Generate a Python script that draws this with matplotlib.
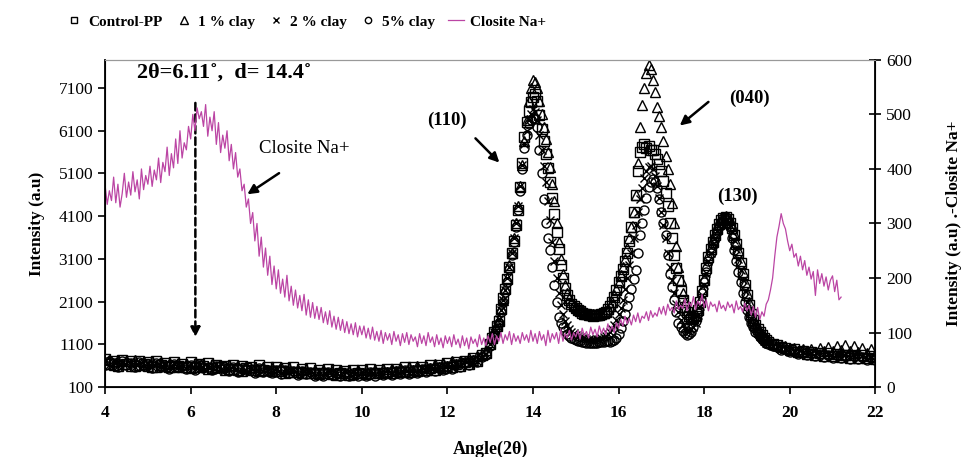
import numpy as np
import matplotlib.pyplot as plt

plt.rcParams['font.family'] = ['Liberation Serif', 'DejaVu Serif']

# 2-theta sampling: 0.1 deg on the flat parts, 0.05 deg across the PP peaks
angle = np.round(np.concatenate([np.arange(4.0, 12.95, 0.1),
                                 np.arange(13.0, 19.475, 0.05),
                                 np.arange(19.5, 22.05, 0.1)]), 2)

control_pp = [
    760, 640, 720, 600, 740, 650, 700, 590, 720, 630,
    690, 580, 700, 610, 660, 560, 690, 600, 650, 570,
    680, 560, 640, 590, 660, 540, 620, 570, 600, 520,
    620, 510, 600, 540, 580, 490, 610, 500, 560, 470,
    570, 480, 550, 450, 560, 460, 520, 430, 540, 440,
    510, 420, 530, 400, 500, 440, 480, 390, 510, 420,
    490, 400, 520, 420, 500, 440, 530, 430, 520, 460,
    560, 450, 580, 480, 560, 500, 610, 510, 620, 540,
    660, 560, 690, 600, 720, 650, 770, 720, 840, 900,
    1100, 1250, 1380, 1520, 1650, 1930, 2180, 2400, 2620, 2900,
    3250, 3520, 3900, 4250, 4780, 5350, 5950, 6300, 6560, 6780,
    6900, 6950, 6800, 6480, 6150, 5850, 5550, 5230, 4900, 4520,
    4150, 3720, 3330, 2950, 2650, 2420, 2250, 2130, 2050, 1990,
    1950, 1900, 1870, 1840, 1820, 1800, 1790, 1780, 1770, 1780,
    1780, 1790, 1800, 1830, 1860, 1920, 1990, 2090, 2220, 2380,
    2550, 2700, 2870, 3050, 3250, 3520, 3850, 4200, 4600, 5150,
    5600, 5720, 5780, 5700, 5740, 5660, 5640, 5560, 5450, 5330,
    5150, 4920, 4650, 4330, 3950, 3580, 3200, 2880, 2600, 2350,
    2150, 1980, 1850, 1760, 1700, 1710, 1760, 1900, 2100, 2350,
    2600, 2880, 3150, 3330, 3500, 3660, 3800, 3920, 4000, 4060,
    4080, 4040, 3950, 3820, 3650, 3450, 3250, 3000, 2750, 2500,
    2250, 2020, 1800, 1660, 1550, 1460, 1380, 1310, 1250, 1200,
    1150, 1100, 1080, 1030, 1020, 960, 980, 920, 950, 880,
    930, 850, 900, 830, 890, 820, 880, 800, 860, 790,
    850, 780, 840, 770, 820, 760]

clay_1 = [
    650, 740, 610, 720, 640, 700, 590, 730, 620, 680,
    590, 700, 570, 680, 600, 650, 560, 670, 580, 640,
    550, 660, 580, 620, 530, 650, 560, 600, 510, 620,
    520, 600, 480, 590, 510, 560, 470, 580, 490, 540,
    470, 560, 440, 540, 460, 510, 420, 530, 440, 500,
    410, 500, 430, 480, 390, 490, 420, 470, 400, 500,
    420, 510, 430, 490, 440, 520, 450, 530, 470, 550,
    480, 570, 500, 590, 510, 600, 540, 640, 560, 660,
    600, 700, 640, 720, 680, 780, 740, 820, 880, 960,
    1150, 1300, 1420, 1580, 1700, 1950, 2150, 2420, 2650, 2950,
    3250, 3600, 3950, 4350, 4800, 5300, 5850, 6350, 6800, 7100,
    7300, 7250, 7100, 6800, 6500, 6200, 5900, 5600, 5250, 4850,
    4450, 3950, 3500, 3100, 2750, 2500, 2300, 2180, 2080, 2020,
    1980, 1930, 1900, 1870, 1850, 1830, 1820, 1800, 1800, 1790,
    1790, 1800, 1810, 1840, 1870, 1920, 2000, 2100, 2250, 2400,
    2550, 2720, 2900, 3100, 3350, 3600, 3850, 4200, 4600, 5350,
    6200, 6700, 7100, 7450, 7650, 7550, 7300, 7000, 6650, 6450,
    6200, 5850, 5500, 5200, 4850, 4400, 3950, 3400, 2900, 2600,
    2300, 2080, 1900, 1800, 1720, 1730, 1780, 1950, 2150, 2400,
    2650, 2950, 3200, 3380, 3550, 3700, 3850, 3960, 4050, 4090,
    4100, 4080, 4000, 3870, 3700, 3500, 3300, 3050, 2800, 2550,
    2300, 2080, 1850, 1720, 1600, 1500, 1420, 1350, 1300, 1250,
    1200, 1140, 1120, 1050, 1060, 990, 1020, 950, 1000, 930,
    990, 920, 1010, 940, 1040, 950, 1060, 960, 1080, 940,
    1050, 930, 1020, 900, 980, 880]

clay_2 = [
    700, 620, 740, 600, 680, 650, 720, 580, 690, 620,
    660, 560, 690, 590, 640, 550, 670, 580, 620, 540,
    640, 530, 620, 560, 600, 500, 630, 530, 580, 490,
    590, 480, 570, 510, 550, 460, 560, 480, 530, 440,
    540, 430, 520, 450, 500, 410, 510, 420, 480, 390,
    470, 380, 480, 400, 450, 370, 470, 390, 460, 380,
    450, 370, 480, 390, 470, 400, 490, 410, 500, 430,
    520, 420, 540, 450, 550, 470, 570, 490, 600, 510,
    620, 540, 660, 590, 700, 640, 760, 700, 820, 880,
    1100, 1220, 1400, 1530, 1700, 1900, 2150, 2380, 2650, 2920,
    3250, 3580, 3950, 4350, 4800, 5300, 5800, 6100, 6350, 6500,
    6600, 6550, 6350, 6000, 5650, 5280, 4900, 4450, 4000, 3500,
    3050, 2650, 2300, 2030, 1800, 1650, 1550, 1470, 1400, 1360,
    1320, 1290, 1270, 1250, 1240, 1230, 1220, 1210, 1210, 1210,
    1220, 1230, 1250, 1270, 1300, 1340, 1400, 1470, 1550, 1660,
    1800, 1960, 2150, 2400, 2650, 2950, 3250, 3580, 3900, 4200,
    4500, 4750, 5000, 5150, 5250, 5280, 5200, 5050, 4800, 4520,
    4200, 3900, 3600, 3250, 2900, 2600, 2300, 2050, 1850, 1680,
    1550, 1470, 1420, 1410, 1450, 1500, 1600, 1780, 2000, 2250,
    2500, 2780, 3050, 3250, 3450, 3600, 3750, 3870, 3950, 3990,
    4000, 3960, 3900, 3750, 3550, 3330, 3100, 2850, 2600, 2350,
    2100, 1900, 1700, 1570, 1450, 1370, 1300, 1240, 1180, 1140,
    1100, 1060, 1040, 990, 990, 930, 950, 890, 920, 860,
    900, 830, 890, 810, 870, 800, 860, 790, 850, 770,
    830, 760, 820, 750, 800, 740]

clay_5 = [
    620, 720, 660, 580, 710, 610, 670, 560, 690, 600,
    640, 550, 670, 570, 620, 530, 650, 560, 600, 520,
    610, 510, 640, 540, 580, 490, 600, 520, 560, 470,
    570, 460, 550, 490, 530, 440, 540, 460, 510, 420,
    510, 410, 490, 430, 470, 390, 480, 400, 450, 370,
    440, 360, 460, 380, 420, 350, 440, 370, 430, 360,
    420, 350, 450, 370, 440, 380, 460, 390, 480, 410,
    490, 400, 510, 430, 530, 450, 550, 470, 580, 490,
    600, 520, 640, 570, 680, 620, 740, 680, 800, 860,
    1060, 1200, 1350, 1480, 1600, 1850, 2100, 2320, 2550, 2870,
    3200, 3500, 3850, 4250, 4700, 5200, 5700, 6000, 6250, 6350,
    6400, 6380, 6200, 5650, 5100, 4500, 3950, 3600, 3300, 2900,
    2500, 2100, 1750, 1600, 1500, 1420, 1350, 1300, 1250, 1220,
    1200, 1180, 1170, 1160, 1150, 1140, 1140, 1130, 1130, 1140,
    1140, 1150, 1150, 1160, 1180, 1190, 1150, 1170, 1200, 1250,
    1350, 1480, 1650, 1820, 2000, 2200, 2400, 2620, 2850, 3250,
    3650, 3950, 4250, 4520, 4780, 4900, 4980, 4900, 4750, 4500,
    4200, 3950, 3650, 3200, 2750, 2450, 2150, 1850, 1600, 1500,
    1420, 1370, 1330, 1340, 1400, 1500, 1650, 1830, 2050, 2300,
    2550, 2800, 3050, 3250, 3450, 3600, 3750, 3870, 3950, 3990,
    4000, 3950, 3850, 3600, 3300, 3050, 2800, 2550, 2300, 2100,
    1900, 1750, 1600, 1500, 1400, 1340, 1280, 1230, 1180, 1140,
    1100, 1050, 1030, 970, 980, 920, 940, 880, 910, 850,
    890, 820, 880, 800, 860, 790, 850, 780, 840, 760,
    820, 750, 810, 740, 790, 730]

# Closite Na+ scan (0.05 deg step), read on the right-hand axis
closite_angle = np.round(np.arange(4.0, 21.2001, 0.05), 2)
closite = [
    370, 335, 360, 342, 385, 338, 372, 330, 355, 392, 348, 376, 352, 395, 358, 380, 345, 400, 362, 388,
    372, 405, 368, 398, 380, 420, 375, 412, 395, 440, 388, 428, 402, 455, 410, 470, 420, 448, 435, 478,
    455, 500, 470, 512, 492, 505, 478, 518, 460, 495, 470, 505, 445, 485, 430, 462, 438, 470, 415, 445,
    400, 430, 385, 400, 360, 372, 330, 345, 300, 320, 268, 300, 240, 275, 220, 255, 205, 240, 188, 222,
    180, 215, 172, 198, 165, 205, 158, 185, 150, 178, 145, 168, 140, 170, 132, 160, 128, 155, 126, 148,
    124, 146, 118, 138, 115, 140, 110, 130, 106, 128, 104, 124, 100, 120, 98, 116, 96, 118, 92, 112,
    96, 112, 90, 108, 88, 110, 86, 102, 84, 104, 80, 100, 86, 98, 78, 102, 84, 96, 76, 98,
    82, 100, 78, 96, 84, 92, 74, 98, 80, 94, 76, 100, 82, 92, 74, 96, 78, 90, 72, 94,
    80, 92, 74, 96, 78, 88, 72, 94, 76, 90, 70, 92, 80, 88, 74, 96, 78, 90, 76, 94,
    82, 98, 78, 94, 84, 100, 80, 96, 86, 102, 78, 98, 84, 94, 80, 100, 86, 96, 82, 104,
    84, 98, 80, 102, 86, 96, 76, 104, 82, 98, 88, 100, 80, 106, 84, 98, 90, 104, 86, 100,
    92, 104, 88, 108, 94, 102, 90, 110, 96, 106, 92, 112, 98, 108, 96, 116, 102, 112, 100, 118,
    108, 124, 112, 130, 116, 126, 114, 132, 120, 136, 118, 130, 126, 138, 122, 140, 128, 136, 130, 146,
    134, 148, 132, 152, 140, 146, 136, 158, 142, 150, 144, 162, 140, 156, 148, 166, 142, 158, 150, 170,
    146, 160, 140, 156, 148, 152, 138, 158, 144, 150, 140, 156, 146, 152, 136, 158, 142, 148, 138, 154,
    140, 150, 132, 148, 128, 146, 124, 138, 130, 152, 160, 178, 200, 240, 275, 295, 318, 300, 290, 268,
    250, 262, 238, 245, 222, 240, 215, 232, 205, 220, 198, 212, 168, 215, 190, 208, 185, 202, 178, 196,
    204, 175, 196, 160, 165]

left_ticks = [100, 1100, 2100, 3100, 4100, 5100, 6100, 7100]
right_ticks = [0, 100, 200, 300, 400, 500, 600]
x_ticks = [4, 6, 8, 10, 12, 14, 16, 18, 20, 22]
magenta = '#bb45a4'

fig = plt.figure(figsize=(9.64, 4.57), dpi=100)
ax = fig.add_axes([0.109, 0.153, 0.799, 0.716])
ax2 = ax.twinx()

mk = dict(ls='none', mfc='none', mec='black', mew=1.0)
h1, = ax.plot(angle, control_pp, marker='s', ms=7, label='Control-PP', **mk)
h2, = ax.plot(angle, clay_1, marker='^', ms=7.5, label='1 % clay', **mk)
h3, = ax.plot(angle, clay_2, marker='x', ms=6, label='2 % clay', **mk)
h4, = ax.plot(angle, clay_5, marker='o', ms=6.5, label='5% clay', **mk)
h5, = ax2.plot(closite_angle, closite, color=magenta, lw=0.9, label='Closite Na+')

ax.set_xlim(4, 22)
ax.set_ylim(100, 7760)
ax2.set_ylim(0, 600)
ax.set_xticks(x_ticks)
ax.set_yticks(left_ticks)
ax2.set_yticks(right_ticks)

for s in ['left', 'bottom']:
    ax.spines[s].set_linewidth(1.3)
ax2.spines['right'].set_linewidth(1.3)
for a in (ax, ax2):
    a.spines['top'].set_color('#999999')
    a.spines['top'].set_linewidth(0.8)
ax.tick_params(axis='x', direction='out', length=5, width=1.2, labelsize=12.5, pad=8)
ax.tick_params(axis='y', direction='out', length=5, width=1.2, labelsize=12.5)
ax2.tick_params(axis='y', direction='inout', length=9, width=1.2, labelsize=12.5)
for lab in ax.get_xticklabels():
    lab.set_fontweight('bold')

ax.set_xlabel('Angle(2θ)', fontsize=13, fontweight='bold', labelpad=14)
ax.set_ylabel('Intensity (a.u)', fontsize=12.5, fontweight='bold', labelpad=10)
ax2.set_ylabel('Intensity (a.u) .-Closite Na+', fontsize=12.5, fontweight='bold',
               rotation=90, labelpad=24)

# peak labels and arrows
arrow = dict(arrowstyle='-|>', color='black', lw=1.8, mutation_scale=14)
ax.annotate('', xy=(7.27, 4578), xytext=(8.12, 5144), arrowprops=arrow)
ax.annotate('', xy=(13.26, 5309), xytext=(12.61, 5969), arrowprops=arrow)
ax.annotate('', xy=(17.38, 6181), xytext=(18.15, 6817), arrowprops=arrow)
ax.annotate('', xy=(6.11, 1208), xytext=(6.11, 6817),
            arrowprops=dict(arrowstyle='-|>', color='black', lw=1.8, ls=(0, (3, 1.6)),
                            mutation_scale=14))
ax.text(8.65, 5686, 'Closite Na+', fontsize=13.5, ha='center', va='center')
ax.text(12.0, 6345, '(110)', fontsize=13.5, fontweight='bold', ha='center', va='center')
ax.text(19.06, 6864, '(040)', fontsize=13.5, fontweight='bold', ha='center', va='center')
ax.text(18.78, 4555, '(130)', fontsize=13.5, fontweight='bold', ha='center', va='center')
ax.text(4.75, 7453, '2θ=6.11˚,  d= 14.4˚', fontsize=16, fontweight='bold',
        ha='left', va='center')

fig.legend([h1, h2, h3, h4, h5], [h.get_label() for h in (h1, h2, h3, h4, h5)],
           ncol=5, loc='center left', bbox_to_anchor=(0.055, 0.952), frameon=False,
           prop={'weight': 'bold', 'size': 11}, markerscale=0.7,
           handlelength=1.0, handletextpad=0.4, columnspacing=0.9)

fig.savefig('out.png', dpi=100)
